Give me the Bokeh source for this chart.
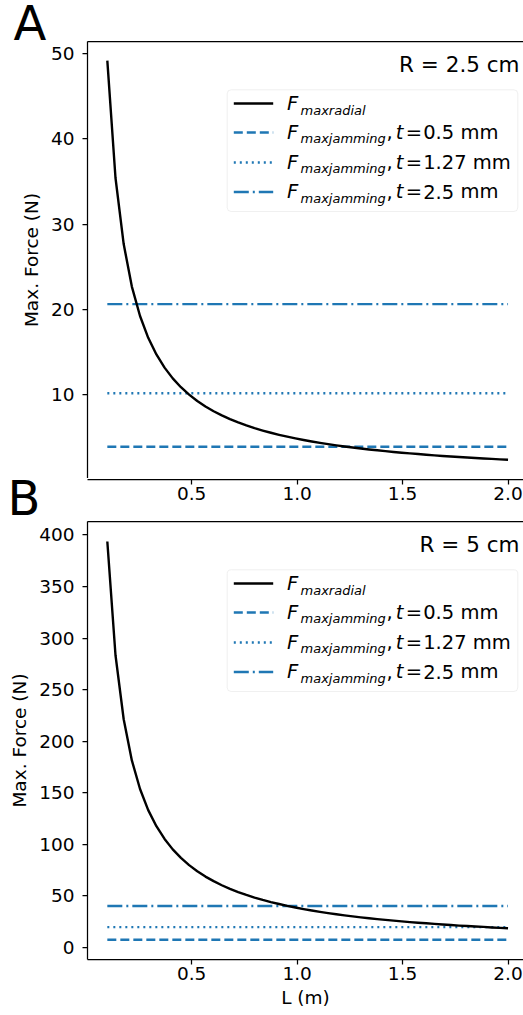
from bokeh.plotting import figure
from bokeh.layouts import column, row
from bokeh.models import (Range1d, FixedTicker, NumeralTickFormatter, LinearAxis,
                          Label, BoxAnnotation)
from bokeh.embed import file_html
from bokeh.resources import INLINE

# ---------------- data ----------------
L_m = [0.1000, 0.1388, 0.1776, 0.2163, 0.2551, 0.2939, 0.3327, 0.3714, 0.4102, 0.4490,
       0.4878, 0.5265, 0.5653, 0.6041, 0.6429, 0.6816, 0.7204, 0.7592, 0.7980, 0.8367,
       0.8755, 0.9143, 0.9531, 0.9918, 1.0306, 1.0694, 1.1082, 1.1469, 1.1857, 1.2245,
       1.2633, 1.3020, 1.3408, 1.3796, 1.4184, 1.4571, 1.4959, 1.5347, 1.5735, 1.6122,
       1.6510, 1.6898, 1.7286, 1.7673, 1.8061, 1.8449, 1.8837, 1.9224, 1.9612, 2.0000]

F_radial_R25 = [49.20, 35.41, 27.65, 22.66, 19.20, 16.64, 14.69, 13.14, 11.88, 10.84,
                9.97, 9.22, 8.58, 8.02, 7.53, 7.09, 6.70, 6.35, 6.03, 5.75,
                5.49, 5.25, 5.03, 4.83, 4.64, 4.46, 4.30, 4.15, 4.01, 3.88,
                3.76, 3.64, 3.53, 3.43, 3.33, 3.24, 3.15, 3.07, 2.99, 2.91,
                2.84, 2.77, 2.71, 2.64, 2.58, 2.53, 2.47, 2.42, 2.37, 2.32]

F_radial_R5 = [393.6, 283.3, 221.2, 181.3, 153.6, 133.1, 117.5, 105.1, 95.0, 86.7,
               79.7, 73.8, 68.6, 64.2, 60.2, 56.7, 53.6, 50.8, 48.3, 46.0,
               43.9, 42.0, 40.2, 38.6, 37.1, 35.7, 34.4, 33.2, 32.1, 31.0,
               30.0, 29.1, 28.2, 27.4, 26.6, 25.9, 25.2, 24.5, 23.9, 23.3,
               22.7, 22.2, 21.6, 21.1, 20.7, 20.2, 19.8, 19.3, 18.9, 18.5]

t_mm = ["0.5", "1.27", "2.5"]
F_jam_R25 = [3.85, 10.14, 20.6]
F_jam_R5 = [7.3, 19.6, 40.1]

radius_texts = ["R = 2.5 cm", "R = 5 cm"]
x_ticks = [0.5, 1.0, 1.5, 2.0]
y_ticks_A = [10, 20, 30, 40, 50]
y_ticks_B = [0, 50, 100, 150, 200, 250, 300, 350, 400]
y_label = "Max. Force (N)"
x_label = "L (m)"

# ---------------- style ----------------
BLUE = "#1f77b4"
FONT = "DejaVu Sans"
W = 523
FRAME_L = 87
FRAME_W = W - FRAME_L
TICK_FONT = "18.5px"
jam_dash = ["9 4", "2 4", "15 4 2 4"]
CAP_MID = 0.365   # labels are placed by the middle of their capital letters

X0 = 0.006
X1 = X0 + FRAME_W / 210.9
XR = Range1d(X0, X1)

COMMON = dict(output_backend="svg", toolbar_location=None, outline_line_color=None,
              background_fill_color="white", border_fill_color="white",
              frame_align=False)


def style_axis(ax):
    ax.axis_line_color = "black"
    ax.axis_line_width = 1.25
    ax.major_tick_line_color = "black"
    ax.major_tick_line_width = 1.25
    ax.major_tick_out = 5
    ax.major_tick_in = 0
    ax.minor_tick_line_color = None
    ax.major_label_text_font = FONT
    ax.major_label_text_font_size = TICK_FONT
    ax.major_label_text_color = "black"
    ax.axis_label_text_font = FONT
    ax.axis_label_text_font_size = "18.5px"
    ax.axis_label_text_font_style = "normal"
    ax.axis_label_text_color = "black"


def style_x_axis(ax):
    style_axis(ax)
    ax.ticker = FixedTicker(ticks=x_ticks)
    ax.formatter = NumeralTickFormatter(format="0.0")
    ax.major_label_standoff = 2


def spine_top(p):
    top_ax = LinearAxis(ticker=FixedTicker(ticks=[]), major_tick_out=0, major_tick_in=0,
                        minor_tick_out=0, minor_tick_in=0,
                        major_label_text_font_size="0px", axis_line_color="black",
                        axis_line_width=1.25)
    p.add_layout(top_ax, "above")


def letter_fig(width, height, top_page, letter, lx, baseline):
    s = figure(width=width, height=height,
               x_range=Range1d(0, width), y_range=Range1d(top_page + height, top_page),
               x_axis_location=None, y_axis_location=None,
               min_border_left=0, min_border_right=0, min_border_top=0,
               min_border_bottom=0, **COMMON)
    s.grid.visible = False
    s.add_layout(Label(x=lx, y=baseline - CAP_MID * 48, text=letter, text_font=FONT,
                       text_font_size="48px", text_color="black",
                       text_baseline="alphabetic"))
    return s


def make_panel(F_radial, F_jam, yr, yticks, frame_top_page, frame_h, border_top,
               border_bottom, rtext, show_x):
    p = figure(width=W, height=border_top + frame_h + border_bottom,
               x_range=XR, y_range=Range1d(*yr),
               x_axis_location="below" if show_x else None,
               min_border_left=FRAME_L, min_border_right=0,
               min_border_top=border_top, min_border_bottom=border_bottom, **COMMON)
    p.grid.visible = False
    p.yaxis.ticker = FixedTicker(ticks=yticks)
    p.yaxis.formatter = NumeralTickFormatter(format="0")
    p.yaxis.axis_label = y_label
    for ax in p.yaxis:
        style_axis(ax)
        ax.major_label_standoff = 8
        ax.axis_label_standoff = 6
    if show_x:
        for ax in p.xaxis:
            style_x_axis(ax)
            ax.axis_label = x_label
            ax.axis_label_standoff = 4
    spine_top(p)

    y0, y1 = yr

    def fx(px):
        return X0 + (px - FRAME_L) / FRAME_W * (X1 - X0)

    def fy(py):
        return y1 - (py - frame_top_page) / frame_h * (y1 - y0)

    # data marks
    for val, dash in zip(F_jam, jam_dash):
        p.segment(x0=[L_m[0]], x1=[L_m[-1]], y0=[val], y1=[val], line_color=BLUE,
                  line_width=2.4, line_dash=dash)
    p.line(L_m, F_radial, line_color="black", line_width=2.4, line_join="round")

    off = frame_top_page - 41
    # legend box
    p.add_layout(BoxAnnotation(left=fx(226.7), right=fx(517.3), top=fy(89.3 + off),
                               bottom=fy(211 + off), fill_color="white", fill_alpha=0.8,
                               line_color="#cccccc", line_width=1, border_radius=4,
                               level="underlay"))
    handle_y = [103.0, 132.0, 162.0, 191.5]
    base_y = [110.5, 139.0, 169.0, 198.5]
    styles = [("solid", "black")] + [(d, BLUE) for d in jam_dash]
    for hy, (dash, col) in zip(handle_y, styles):
        p.line([fx(233.3), fx(272.7)], [fy(hy + off)] * 2, line_color=col, line_width=2.4,
               line_dash=dash, level="overlay")

    def lab(px, baseline, text, size=19.5, style="normal", align="left"):
        p.add_layout(Label(x=fx(px), y=fy(baseline - CAP_MID * size + off), text=text,
                           text_font=FONT, text_font_size=f"{size}px",
                           text_font_style=style, text_align=align,
                           text_baseline="alphabetic", text_color="black",
                           level="overlay"))

    lab(286.5, base_y[0], "F", style="italic")
    lab(300, base_y[0] + 4, "maxradial", size=13, style="italic")
    mm_x = [460, 472.3, 460]
    for i, t in enumerate(t_mm):
        b = base_y[i + 1]
        lab(286.5, b, "F", style="italic")
        lab(300, b + 4, "maxjamming", size=13, style="italic")
        lab(386, b, ",")
        lab(395.2, b, "t", style="italic")
        lab(405.3, b, "=")
        lab(422.7, b, t)
        lab(mm_x[i], b, "mm")

    lab(519, 72.3, rtext, size=21.5, align="right")
    return p


# strip holding the panel letter A (page y 0..40)
sA = letter_fig(W, 40, 0, "A", 13, 40.0)

# top panel: frame page y 41..478
p1 = make_panel(F_radial_R25, F_jam_R25, (0.12, 51.44), y_ticks_A, 41, 437, 1, 0,
                radius_texts[0], False)

# band under the top panel: letter B + x axis of the top panel (page y 478..520)
sB = letter_fig(FRAME_L, 42, 478, "B", 7, 515)
tx = figure(width=FRAME_W, height=42, x_range=XR, y_range=Range1d(0, 1),
            y_axis_location=None, min_border_left=0, min_border_right=0,
            min_border_top=0, min_border_bottom=41, **COMMON)
tx.grid.visible = False
for ax in tx.xaxis:
    style_x_axis(ax)

# bottom panel: frame page y 521..959
p2 = make_panel(F_radial_R5, F_jam_R5, (-11.8, 413.0), y_ticks_B, 521, 438, 1, 56,
                radius_texts[1], True)

layout = column(sA, p1, row(sB, tx, spacing=0), p2, spacing=0)
open("out.html", "w").write(file_html(layout, INLINE))
